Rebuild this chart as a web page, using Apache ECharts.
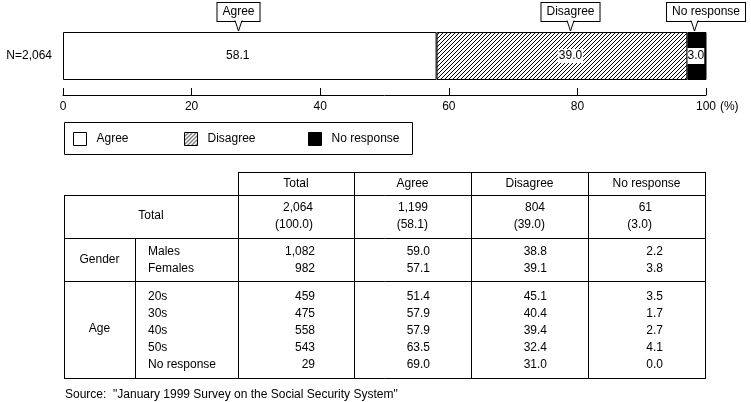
<!DOCTYPE html>
<html><head><meta charset="utf-8">
<script src="https://cdn.jsdelivr.net/npm/echarts@6/dist/echarts.min.js"></script>
<style>html,body{margin:0;padding:0;background:#fff}#c{width:751px;height:402px}</style>
</head><body><div id="c"></div>
<script>
// ---- data ----
const barCategory = ['N=2,064'];
const seriesNames = ['Agree', 'Disagree', 'No response'];
const agreeShare = [58.1];
const disagreeShare = [39.0];
const noResponseShare = [3.0];
const axisMax = 100;
const axisStep = 20;

const tableHeaders = ['Total', 'Agree', 'Disagree', 'No response'];
const totalCounts = [2064, 1199, 804, 61];
const totalShares = [100.0, 58.1, 39.0, 3.0];
const genderLabels = ['Males', 'Females'];
const genderCounts = [1082, 982];
const genderAgree = [59.0, 57.1];
const genderDisagree = [38.8, 39.1];
const genderNoResponse = [2.2, 3.8];
const ageLabels = ['20s', '30s', '40s', '50s', 'No response'];
const ageCounts = [459, 475, 558, 543, 29];
const ageAgree = [51.4, 57.9, 57.9, 63.5, 69.0];
const ageDisagree = [45.1, 40.4, 39.4, 32.4, 31.0];
const ageNoResponse = [3.5, 1.7, 2.7, 4.1, 0.0];
const sourceNote = 'Source:  "January 1999 Survey on the Social Security System"';

// ---- styles ----
const FONT = "'Liberation Sans', Arial, sans-serif";
const txt = { fontFamily: FONT, fontSize: 12, color: '#000' };

function hatch() {
  const c = document.createElement('canvas');
  c.width = 4; c.height = 4;
  const g = c.getContext('2d');
  g.fillStyle = '#fff'; g.fillRect(0, 0, 4, 4);
  g.fillStyle = '#000';
  for (let i = 0; i < 4; i++) g.fillRect(i, 3 - i, 1, 1);
  return c;
}
const hatchFill = { image: hatch(), repeat: 'repeat' };
const fmt1 = v => v.toFixed(1);
const fmtN = v => v.toLocaleString('en-US');

const chart = echarts.init(document.getElementById('c'), null, { renderer: 'canvas' });

// one legend per item so each sits where the reference puts it
const legendLeft = [73, 184, 308];
const legends = seriesNames.map((n, i) => ({
  data: [n], left: legendLeft[i], top: 132, orient: 'horizontal', icon: 'rect',
  itemWidth: 13, itemHeight: 13, padding: 0, selectedMode: false,
  itemStyle: { borderColor: '#000', borderWidth: 1 },
  textStyle: { ...txt, padding: [0, 0, 0, 5] }
}));

const option = {
  animation: false,
  textStyle: txt,
  grid: { left: 63, top: 32, width: 643, height: 48, containLabel: false },
  xAxis: {
    type: 'value', min: 0, max: axisMax, interval: axisStep, position: 'bottom', offset: 15,
    axisLine: { show: true, lineStyle: { color: '#000', width: 1 } },
    axisTick: { show: true, inside: true, length: 7, lineStyle: { color: '#000' } },
    splitLine: { show: false },
    axisLabel: { margin: 6, ...txt },
    name: '(%)', nameLocation: 'end', nameGap: 9,
    nameTextStyle: { ...txt, verticalAlign: 'top', padding: [6, 0, 0, 0] }
  },
  yAxis: {
    type: 'category', data: barCategory,
    axisLine: { show: false }, axisTick: { show: false },
    axisLabel: { margin: 11, ...txt, padding: [0, 0, 8, 0] }
  },
  legend: legends,
  series: [
    { name: 'Agree', type: 'bar', stack: 's', barWidth: '100%', data: agreeShare,
      itemStyle: { color: '#fff', borderColor: '#000', borderWidth: 1 },
      label: { show: true, position: 'inside', offset: [-12, 0], ...txt, formatter: p => fmt1(p.value) } },
    { name: 'Disagree', type: 'bar', stack: 's', barWidth: '100%', data: disagreeShare,
      itemStyle: { color: hatchFill, borderColor: '#000', borderWidth: 1 },
      label: { show: true, position: 'inside', offset: [8.5, 0], ...txt, backgroundColor: '#fff', padding: [1, 1],
        formatter: p => fmt1(p.value) } },
    { name: 'No response', type: 'bar', stack: 's', barWidth: '100%', data: noResponseShare,
      itemStyle: { color: '#000', borderColor: '#000', borderWidth: 1 },
      label: { show: true, position: 'inside', offset: [-1, 0], ...txt, backgroundColor: '#fff', padding: [2, 0],
        formatter: p => fmt1(p.value) } }
  ]
};
chart.setOption(option);

const graphics = [];
// legend frame
graphics.push({ type: 'rect', z: -1, shape: { x: 64.5, y: 122.5, width: 348, height: 32 },
  style: { fill: '#fff', stroke: '#000', lineWidth: 1 } });

// ---- callouts (positioned through the x axis scale) ----
const segVals = [agreeShare[0], disagreeShare[0], noResponseShare[0]];
const pointerShift = [-12, 8.5, -3];
const boxShift = [0, 0, 11.5];
let acc = 0;
segVals.forEach((v, i) => {
  const center = acc + v / 2; acc += v;
  const px = Math.round(chart.convertToPixel({ xAxisIndex: 0 }, center) + pointerShift[i]) + 0.5;
  graphics.push({ type: 'text', z: 100, x: px + boxShift[i], y: 3,
    style: { text: seriesNames[i], fontFamily: FONT, fontSize: 12, fill: '#000', align: 'center', verticalAlign: 'top',
      lineHeight: 14, backgroundColor: '#fff', borderColor: '#000', borderWidth: 1, padding: [2, 5] } });
  graphics.push({ type: 'polygon', z: 101, shape: { points: [[px - 3.5, 20], [px, 31], [px + 3.5, 20]] },
    style: { fill: '#fff', stroke: null } });
  graphics.push({ type: 'polyline', z: 102, shape: { points: [[px - 3.5, 20.5], [px, 31], [px + 3.5, 20.5]] },
    style: { stroke: '#000', lineWidth: 1, fill: null } });
});

// ---- table ----
const colX = [238, 354, 471, 588, 705];
const line = (x1, y1, x2, y2) => graphics.push({ type: 'line', z: 50,
  shape: { x1: x1, y1: y1, x2: x2, y2: y2 }, style: { stroke: '#000', lineWidth: 1 } });
const text = (s, x, y, align) => graphics.push({ type: 'text', z: 50, x: x, y: y,
  style: { text: s, fontFamily: FONT, fontSize: 12, fill: '#000', align: align || 'center', verticalAlign: 'middle' } });

line(238, 172.5, 705.5, 172.5);
[195.5, 238.5, 281.5, 378.5].forEach(y => line(64, y, 705.5, y));
line(64.5, 195, 64.5, 379);
line(135.5, 238, 135.5, 379);
colX.forEach(x => line(x + 0.5, 172, x + 0.5, 379));

tableHeaders.forEach((h, i) => text(h, (colX[i] + colX[i + 1]) / 2, 184));

// total row
text('Total', 151, 216);
const totalRight = [313, 428, 545, 652];
totalCounts.forEach((v, i) => text(fmtN(v), totalRight[i], 208, 'right'));
totalShares.forEach((v, i) => text('(' + fmt1(v) + ')', totalRight[i], 225, 'right'));

const bodyRight = [315, 430, 547, 663];
function block(groupLabel, labels, counts, a, d, n, y0, groupY) {
  text(groupLabel, 99.5, groupY);
  labels.forEach((l, k) => {
    const y = y0 + 17 * k;
    text(l, 148, y, 'left');
    text(fmtN(counts[k]), bodyRight[0], y, 'right');
    text(fmt1(a[k]), bodyRight[1], y, 'right');
    text(fmt1(d[k]), bodyRight[2], y, 'right');
    text(fmt1(n[k]), bodyRight[3], y, 'right');
  });
}
block('Gender', genderLabels, genderCounts, genderAgree, genderDisagree, genderNoResponse, 252, 260);
block('Age', ageLabels, ageCounts, ageAgree, ageDisagree, ageNoResponse, 297, 329);

text(sourceNote, 65, 395, 'left');

chart.setOption({ graphic: { elements: graphics } });
</script>
</body></html>
